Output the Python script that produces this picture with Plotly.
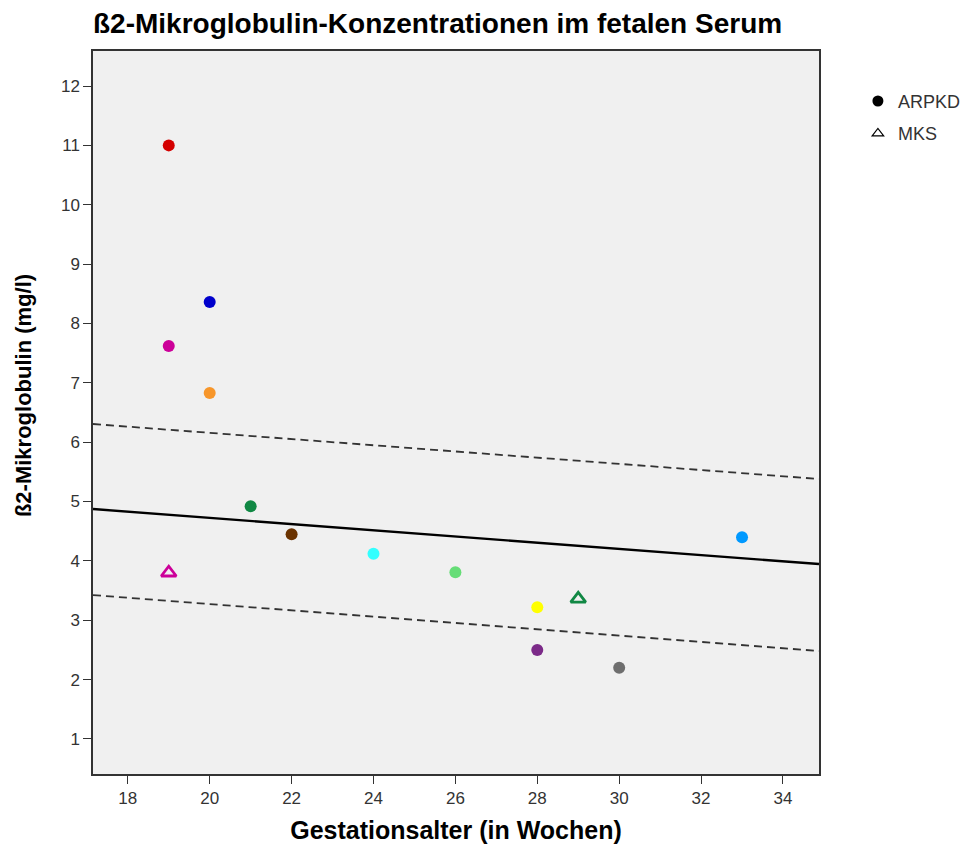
import plotly.graph_objects as go

# ARPKD data
arpkd_weeks = [19, 20, 19, 20, 21, 22, 24, 26, 28, 28, 30, 33]
arpkd_b2m = [11.0, 8.36, 7.62, 6.83, 4.92, 4.45, 4.12, 3.81, 3.22, 2.50, 2.20, 4.40]
arpkd_colors = ["#d40000", "#0000cc", "#cc0099", "#f7962a", "#118844", "#6b3300",
                "#33ffff", "#66dd77", "#ffff00", "#7b2a88", "#6e6e6e", "#0099ff"]

# MKS data
mks_weeks = [19, 29]
mks_b2m = [3.80, 3.36]
mks_colors = ["#cc0099", "#118844"]

# Reference lines (mean and bounds)
line_x = [17.15, 34.88]
mean_y = [4.874, 3.947]
upper_y = [6.306, 5.38]
lower_y = [3.425, 2.482]

x_ticks = [18, 20, 22, 24, 26, 28, 30, 32, 34]
y_ticks = [1, 2, 3, 4, 5, 6, 7, 8, 9, 10, 11, 12]

fig = go.Figure()
fig.add_trace(go.Scatter(x=line_x, y=upper_y, mode="lines",
                         line=dict(color="#333333", width=1.8, dash="8px,5px"), showlegend=False))
fig.add_trace(go.Scatter(x=line_x, y=lower_y, mode="lines",
                         line=dict(color="#333333", width=1.8, dash="8px,5px"), showlegend=False))
fig.add_trace(go.Scatter(x=line_x, y=mean_y, mode="lines",
                         line=dict(color="black", width=2.4), showlegend=False))

fig.add_trace(go.Scatter(x=arpkd_weeks, y=arpkd_b2m, mode="markers",
                         marker=dict(color=arpkd_colors, size=12, symbol="circle", line=dict(width=0)),
                         showlegend=False))
fig.add_trace(go.Scatter(x=mks_weeks, y=mks_b2m, mode="markers",
                         marker=dict(color=mks_colors, size=13, symbol="triangle-up-open",
                                     line=dict(width=2.8)),
                         showlegend=False))

# legend entries
fig.add_trace(go.Scatter(x=[None], y=[None], mode="markers", name="ARPKD", legendgroup="a",
                         marker=dict(color="black", size=11, symbol="circle")))
fig.add_trace(go.Scatter(x=[None], y=[None], mode="markers", name="MKS", legendgroup="b",
                         marker=dict(color="black", size=10, symbol="triangle-up-open", line=dict(width=1.2))))

fig.update_layout(
    width=975, height=855,
    margin=dict(l=85, r=164, t=43, b=89, autoexpand=False),
    paper_bgcolor="white",
    plot_bgcolor="#f0f0f0",
    font=dict(family="Liberation Sans, Arial", color="#222222", size=17),
    title=dict(text="<b>ß2-Mikroglobulin-Konzentrationen im fetalen Serum</b>",
               x=85/975, xanchor="left", y=1 - 15/855, yanchor="middle",
               font=dict(size=28, color="black")),
    legend=dict(x=1.0536, y=0.956, xanchor="left", yanchor="top",
                font=dict(size=18, color="#333333"), bgcolor="rgba(0,0,0,0)",
                tracegroupgap=6, itemwidth=30),
    showlegend=True,
    annotations=[dict(text="<b>ß2-Mikroglobulin (mg/l)</b>", textangle=-90,
                      xref="paper", yref="paper", x=-0.0965, y=0.524,
                      xanchor="center", yanchor="middle", showarrow=False,
                      font=dict(size=22, color="black"))],
)
fig.update_xaxes(range=[17.15, 34.88], tickvals=x_ticks, ticks="outside", ticklen=8,
                 tickcolor="#333333", showgrid=False, zeroline=False,
                 showline=True, linecolor="#333333", linewidth=1.5, mirror=True,
                 title=dict(text="<b>Gestationsalter (in Wochen)</b>", font=dict(size=25, color="black"),
                            standoff=14),
                 tickfont=dict(size=17, color="#333333"))
fig.update_yaxes(range=[0.41, 12.59], tickvals=y_ticks, ticks="outside", ticklen=8,
                 tickcolor="#333333", showgrid=False, zeroline=False,
                 showline=True, linecolor="#333333", linewidth=1.5, mirror=True,
                 tickfont=dict(size=17, color="#333333"))

fig.write_html("out.html")
